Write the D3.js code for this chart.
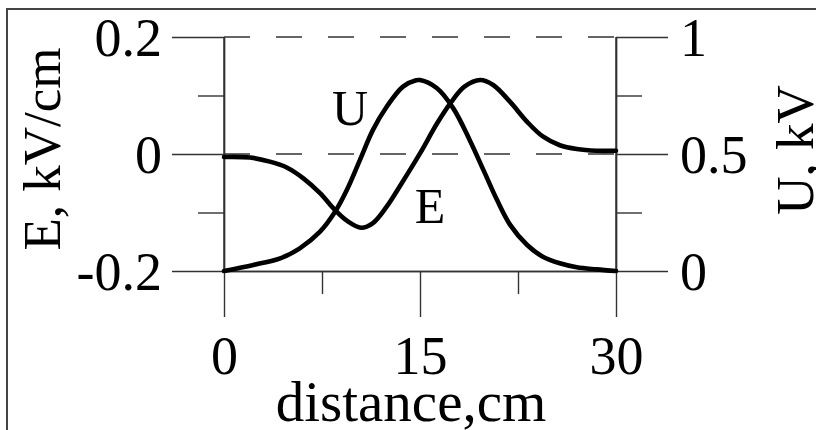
<!DOCTYPE html>
<html>
<head>
<meta charset="utf-8">
<script src="https://cdn.jsdelivr.net/npm/d3@7"></script>
<style>
  html, body { margin: 0; padding: 0; background: #fff; overflow: hidden; }
  svg { display: block; overflow: hidden; }
  text { font-family: "Liberation Serif", "Times New Roman", serif; fill: #000; }
</style>
</head>
<body>
<svg id="chart" width="816" height="430"></svg>
<script>
// distance along the gap, cm
const distance = [0, 2, 3.5, 4.8, 6.1, 7.35, 8.5, 9.4, 10.5, 11.4, 12.45, 13.6, 15, 16.3, 17.4, 18.4, 19.6, 20.6, 21.9, 23.2, 24.4, 25.7, 27, 28.5, 30];
// electric field E, kV/cm
const fieldE = [-0.005, -0.006, -0.013, -0.023, -0.042, -0.067, -0.096, -0.114, -0.126, -0.118, -0.090, -0.050, 0.001, 0.052, 0.089, 0.115, 0.1265, 0.118, 0.089, 0.055, 0.030, 0.015, 0.0085, 0.0056, 0.0056];
// potential U, kV
const distanceU = [0, 2.25, 4.3, 5.8, 7.35, 8.5, 9.4, 10.4, 11.4, 12.45, 13.7, 14.7, 15, 16.3, 17.55, 18.8, 19.85, 20.9, 21.9, 23.2, 24.4, 25.7, 27, 28.5, 30];
const potentialU = [0, 0.026, 0.054, 0.097, 0.168, 0.253, 0.346, 0.474, 0.603, 0.702, 0.788, 0.815, 0.816, 0.781, 0.695, 0.560, 0.432, 0.303, 0.197, 0.111, 0.061, 0.033, 0.016, 0.007, 0];

const xTicks = [0, 15, 30];
const xMinor = [7.5, 22.5];
const eTicks = [-0.2, 0, 0.2];
const eTickLabels = ["-0.2", "0", "0.2"];
const eMinor = [-0.1, 0.1];
const uTicks = [0, 0.5, 1];
const uTickLabels = ["0", "0.5", "1"];
const uMinor = [0.25, 0.75];

const svg = d3.select("#chart");
const ink = "#333";

const x = d3.scaleLinear().domain([0, 30]).range([224, 616]);
const yE = d3.scaleLinear().domain([-0.2, 0.2]).range([271, 37]);
const yU = d3.scaleLinear().domain([0, 1]).range([271, 37]);

// outer frame (runs off the right and bottom edges)
svg.append("rect")
  .attr("x", 7).attr("y", 9).attr("width", 900).attr("height", 500)
  .attr("fill", "none").attr("stroke", "#444").attr("stroke-width", 2);

function styleAxis(g) {
  g.selectAll("path.domain").attr("stroke", ink).attr("stroke-width", 1.4);
  g.selectAll(".tick line").attr("stroke", ink).attr("stroke-width", 1.4);
  g.selectAll("text").attr("font-size", 54).attr("font-family", "Liberation Serif, serif").attr("fill", "#000");
}

// left axis: E
const leftMajor = svg.append("g").attr("transform", `translate(${x(0)},0)`)
  .call(d3.axisLeft(yE).tickValues(eTicks).tickSize(52).tickSizeOuter(0)
    .tickPadding(10).tickFormat((d, i) => eTickLabels[i]));
styleAxis(leftMajor);
leftMajor.selectAll("text").attr("dy", "0.34em");
svg.append("g").attr("transform", `translate(${x(0)},0)`)
  .call(d3.axisLeft(yE).tickValues(eMinor).tickSize(26).tickSizeOuter(0).tickFormat(""))
  .call(styleAxis);

// right axis: U
const rightMajor = svg.append("g").attr("transform", `translate(${x(30)},0)`)
  .call(d3.axisRight(yU).tickValues(uTicks).tickSize(52).tickSizeOuter(0)
    .tickPadding(12).tickFormat((d, i) => uTickLabels[i]));
styleAxis(rightMajor);
rightMajor.selectAll("text").attr("dy", "0.34em");
svg.append("g").attr("transform", `translate(${x(30)},0)`)
  .call(d3.axisRight(yU).tickValues(uMinor).tickSize(26).tickSizeOuter(0).tickFormat(""))
  .call(styleAxis);

// bottom axis: distance
const bottom = svg.append("g").attr("transform", `translate(0,${yE(-0.2)})`)
  .call(d3.axisBottom(x).tickValues(xTicks).tickSize(46).tickSizeOuter(0).tickFormat(d3.format("d")));
styleAxis(bottom);
bottom.selectAll("text").attr("y", 103).attr("dy", null);
svg.append("g").attr("transform", `translate(0,${yE(-0.2)})`)
  .call(d3.axisBottom(x).tickValues(xMinor).tickSize(23).tickSizeOuter(0).tickFormat(""))
  .call(styleAxis);

// vertical axis lines across the plot
[0, 30].forEach(v => {
  svg.append("line")
    .attr("x1", x(v)).attr("x2", x(v)).attr("y1", yE(0.2)).attr("y2", yE(-0.2))
    .attr("stroke", ink).attr("stroke-width", 1.4);
});

// dashed reference lines at E = 0.2 and E = 0
[0.2, 0].forEach(v => {
  svg.append("line")
    .attr("x1", x(0)).attr("x2", x(30)).attr("y1", yE(v)).attr("y2", yE(v))
    .attr("stroke", ink).attr("stroke-width", 1.4).attr("stroke-dasharray", "26,26");
});

// curves
const lineE = d3.line().x((d, i) => x(distance[i])).y(d => yE(d)).curve(d3.curveCatmullRom.alpha(0.5));
const lineU = d3.line().x((d, i) => x(distanceU[i])).y(d => yU(d)).curve(d3.curveCatmullRom.alpha(0.5));

svg.append("path").datum(fieldE).attr("d", lineE)
  .attr("fill", "none").attr("stroke", "#000").attr("stroke-width", 4.6).attr("stroke-linecap", "round");
svg.append("path").datum(potentialU).attr("d", lineU)
  .attr("fill", "none").attr("stroke", "#000").attr("stroke-width", 4.6).attr("stroke-linecap", "round");

// curve labels
svg.append("text").attr("x", 350).attr("y", 125).attr("text-anchor", "middle").attr("font-size", 50).text("U");
svg.append("text").attr("x", 430).attr("y", 223).attr("text-anchor", "middle").attr("font-size", 50).text("E");

// axis titles
svg.append("text").attr("transform", "translate(60,149) rotate(-90)")
  .attr("text-anchor", "middle").attr("font-size", 53).text("E, kV/cm");
svg.append("text").attr("transform", "translate(813,150) rotate(-90)")
  .attr("text-anchor", "middle").attr("font-size", 53).text("U, kV");
svg.append("text").attr("x", 411).attr("y", 421)
  .attr("text-anchor", "middle").attr("font-size", 57).text("distance,cm");
</script>
</body>
</html>
